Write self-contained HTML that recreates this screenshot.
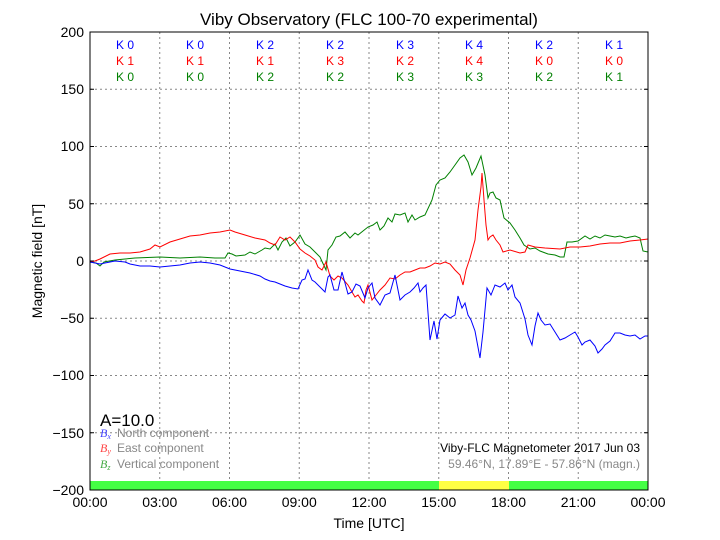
<!DOCTYPE html>
<html><head><meta charset="utf-8"><style>
html,body{margin:0;padding:0;background:#fff;}
svg{display:block;font-family:"Liberation Sans",sans-serif;}
</style></head><body>
<svg width="720" height="540" viewBox="0 0 720 540" xmlns="http://www.w3.org/2000/svg">
<rect width="720" height="540" fill="#fff"/>
<g stroke="#888" stroke-width="1" stroke-dasharray="2,3" fill="none">
<line x1="159.75" y1="32" x2="159.75" y2="490"/><line x1="229.5" y1="32" x2="229.5" y2="490"/>
<line x1="299.25" y1="32" x2="299.25" y2="490"/><line x1="369" y1="32" x2="369" y2="490"/>
<line x1="438.75" y1="32" x2="438.75" y2="490"/><line x1="508.5" y1="32" x2="508.5" y2="490"/>
<line x1="578.25" y1="32" x2="578.25" y2="490"/>
<line x1="90" y1="89.25" x2="648" y2="89.25"/><line x1="90" y1="146.5" x2="648" y2="146.5"/>
<line x1="90" y1="203.75" x2="648" y2="203.75"/><line x1="90" y1="261" x2="648" y2="261"/>
<line x1="90" y1="318.25" x2="648" y2="318.25"/><line x1="90" y1="375.5" x2="648" y2="375.5"/>
<line x1="90" y1="432.75" x2="648" y2="432.75"/>
</g>
<rect x="90" y="481" width="349" height="9" fill="#44ff44"/>
<rect x="439" y="481" width="70" height="9" fill="#ffff44"/>
<rect x="509" y="481" width="139" height="9" fill="#44ff44"/>
<g fill="none" stroke-width="1">
<polyline stroke="#008000" points="90,262 96,263 100,266 104,262 115,260 125,259 135,258 160,257 180,258 200,257 215,258 225,258 228,253 232,254 236,256 245,255 250,252 255,254 262,250 265,248 270,249 275,244 278,250 282,242 286,238 290,246 295,242 300,235 305,244 310,247 315,252 320,257 326,270 328,250 332,245 336,237 340,236 345,232 350,238 355,233 358,235 363,231 368,227 373,225 377,222 380,230 384,226 388,218 392,222 395,214 400,215 405,213 408,222 412,215 415,220 420,217 425,215 432,200 436,185 440,180 445,178 450,172 455,165 460,158 464,155 468,162 472,175 476,168 481,156 485,175 488,198 490,193 493,192 496,198 500,200 504,218 510,223 515,230 520,238 524,245 530,249 535,248 540,251 548,254 555,255 560,257 564,257 567,242 572,242 578,241 585,236 590,239 595,236 600,238 605,235 610,236 615,237 620,236 626,238 630,237 635,236 640,238 643,251 648,252"/>
<polyline stroke="#ff0000" points="90,262 95,261 100,259 110,254 120,253 130,253 140,252 150,249 155,245 160,247 170,242 180,239 190,236 200,235 210,233 220,232 230,230 235,232 245,235 255,238 265,240 270,243 275,245 280,237 285,240 290,237 295,242 300,249 305,253 310,256 315,260 318,267 322,270 326,262 330,276 334,280 338,276 342,278 348,285 352,292 355,297 358,295 362,301 364,303 366,290 368,285 372,300 376,295 380,290 385,285 390,278 395,279 400,275 405,272 410,272 415,270 420,268 425,268 430,266 435,263 440,264 445,262 450,264 455,270 460,275 463,285 466,270 470,258 475,240 478,210 481,187 482,173 484,200 486,225 488,240 490,237 493,235 496,240 500,245 503,252 510,250 520,253 525,252 528,245 535,247 545,248 560,249 570,247 580,247 590,246 600,244 610,243 620,243 630,241 640,240 648,239"/>
<polyline stroke="#0000ff" points="90,262 100,264 110,262 115,261 125,262 130,264 140,266 150,266 160,267 170,266 180,265 190,263 200,262 210,263 220,265 230,269 240,271 250,273 260,276 265,279 270,281 275,282 280,284 285,286 292,288 298,289 302,280 305,279 308,270 312,280 315,282 320,287 325,292 328,277 330,275 334,290 338,290 342,272 345,283 348,294 352,292 356,284 360,286 365,298 368,288 372,283 375,298 380,305 385,295 390,293 395,275 400,300 405,295 410,292 414,288 418,283 420,292 423,288 426,285 430,340 434,321 437,339 440,320 445,314 450,318 455,315 458,296 462,308 465,303 468,315 471,320 475,331 480,358 483,332 487,288 491,295 495,285 500,287 505,283 508,290 512,285 515,297 520,303 525,319 528,335 532,345 535,326 538,313 541,320 545,325 550,324 555,332 560,340 565,338 570,335 575,332 578,337 582,345 585,342 590,340 595,346 598,353 602,349 605,345 610,341 615,333 620,333 625,335 630,336 635,335 640,339 645,336 648,336"/>
</g>
<rect x="90" y="32" width="558" height="458" fill="none" stroke="#000" stroke-width="1"/>
<g stroke="#000">
<line x1="90" y1="32" x2="94" y2="32"/><line x1="90" y1="89.25" x2="94" y2="89.25"/><line x1="90" y1="146.5" x2="94" y2="146.5"/><line x1="90" y1="203.75" x2="94" y2="203.75"/><line x1="90" y1="261" x2="94" y2="261"/><line x1="90" y1="318.25" x2="94" y2="318.25"/><line x1="90" y1="375.5" x2="94" y2="375.5"/><line x1="90" y1="432.75" x2="94" y2="432.75"/>
<line x1="644" y1="89.25" x2="648" y2="89.25"/><line x1="644" y1="146.5" x2="648" y2="146.5"/><line x1="644" y1="203.75" x2="648" y2="203.75"/><line x1="644" y1="261" x2="648" y2="261"/><line x1="644" y1="318.25" x2="648" y2="318.25"/><line x1="644" y1="375.5" x2="648" y2="375.5"/><line x1="644" y1="432.75" x2="648" y2="432.75"/>
</g>
<g font-size="14" fill="#000" text-anchor="end">
<text x="84" y="37">200</text><text x="84" y="94">150</text><text x="84" y="151">100</text><text x="84" y="209">50</text><text x="84" y="266">0</text><text x="84" y="323">−50</text><text x="84" y="380">−100</text><text x="84" y="438">−150</text><text x="84" y="495">−200</text>
</g>
<g font-size="14" fill="#000" text-anchor="middle">
<text x="90" y="507">00:00</text><text x="159.75" y="507">03:00</text><text x="229.5" y="507">06:00</text><text x="299.25" y="507">09:00</text><text x="369" y="507">12:00</text><text x="438.75" y="507">15:00</text><text x="508.5" y="507">18:00</text><text x="578.25" y="507">21:00</text><text x="648" y="507">00:00</text>
<text x="369" y="528">Time [UTC]</text>
<text x="369" y="25" font-size="17">Viby Observatory (FLC 100-70 experimental)</text>
<text transform="translate(42,261) rotate(-90)" font-size="14">Magnetic field [nT]</text>
</g>
<g font-size="12" text-anchor="middle">
<g fill="#0000ff"><text x="125" y="49">K 0</text><text x="195" y="49">K 0</text><text x="265" y="49">K 2</text><text x="335" y="49">K 2</text><text x="405" y="49">K 3</text><text x="474" y="49">K 4</text><text x="544" y="49">K 2</text><text x="614" y="49">K 1</text></g>
<g fill="#ff0000"><text x="125" y="65">K 1</text><text x="195" y="65">K 1</text><text x="265" y="65">K 1</text><text x="335" y="65">K 3</text><text x="405" y="65">K 2</text><text x="474" y="65">K 4</text><text x="544" y="65">K 0</text><text x="614" y="65">K 0</text></g>
<g fill="#008000"><text x="125" y="81">K 0</text><text x="195" y="81">K 0</text><text x="265" y="81">K 2</text><text x="335" y="81">K 2</text><text x="405" y="81">K 3</text><text x="474" y="81">K 3</text><text x="544" y="81">K 2</text><text x="614" y="81">K 1</text></g>
</g>
<text x="100" y="426" font-size="17" fill="#000">A=10.0</text>
<g font-size="12">
<text x="100" y="437" fill="#4444ff" font-family="Liberation Serif,serif" font-style="italic">B<tspan font-size="8" dy="2">x</tspan></text>
<text x="117" y="437" fill="#888">North component</text>
<text x="100" y="452" fill="#ff4444" font-family="Liberation Serif,serif" font-style="italic">B<tspan font-size="8" dy="2">y</tspan></text>
<text x="117" y="452" fill="#888">East component</text>
<text x="100" y="468" fill="#44aa44" font-family="Liberation Serif,serif" font-style="italic">B<tspan font-size="8" dy="2">z</tspan></text>
<text x="117" y="468" fill="#888">Vertical component</text>
<text x="640" y="452" fill="#000" text-anchor="end">Viby-FLC Magnetometer 2017 Jun 03</text>
<text x="640" y="468" fill="#888" text-anchor="end">59.46°N, 17.89°E - 57.86°N (magn.)</text>
</g>
</svg>
</body></html>
